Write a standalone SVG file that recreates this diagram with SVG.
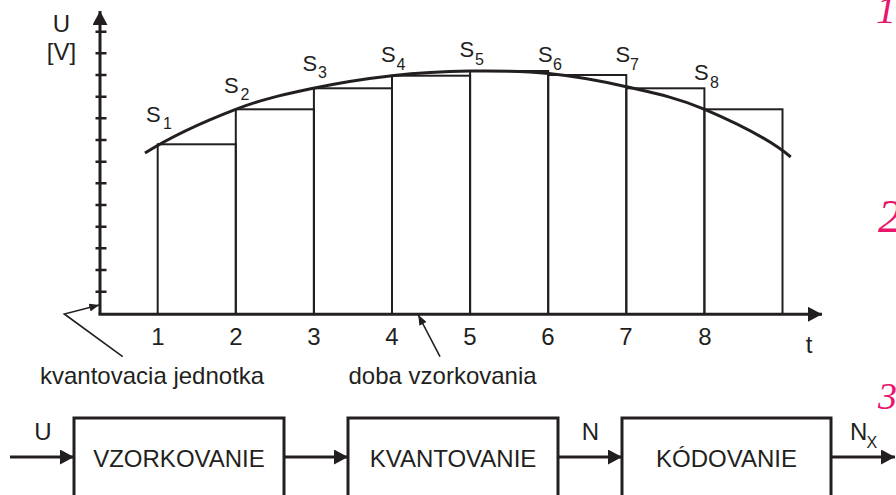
<svg xmlns="http://www.w3.org/2000/svg" width="896" height="495" viewBox="0 0 896 495">
<defs>
<style>
text{font-family:"Liberation Sans",Arial,sans-serif;fill:#231f20}
.lbl{font-size:24px}
.s{font-size:22px}
.sub{font-size:16px}
.axis{stroke:#231f20;stroke-width:3;fill:none}
.tick{stroke:#231f20;stroke-width:2.5}
.blk{stroke:#231f20;stroke-width:2;fill:none}
.box{stroke:#231f20;stroke-width:3;fill:#fff}
.conn{stroke:#231f20;stroke-width:3;fill:none}
.lead{stroke:#231f20;stroke-width:1.6;fill:none}
.pink{font-family:"Liberation Serif","Times New Roman",serif;font-style:italic;fill:#e8156b}
</style>
<marker id="ah" viewBox="0 0 14 15" refX="14" refY="7.5" markerWidth="14" markerHeight="15" markerUnits="userSpaceOnUse" orient="auto">
<path d="M0,0 L14,7.5 L0,15 Z" fill="#231f20"/>
</marker>
<marker id="ahs" viewBox="0 0 10 8" refX="10" refY="4" markerWidth="10" markerHeight="8" markerUnits="userSpaceOnUse" orient="auto">
<path d="M0,0 L10,4 L0,8 Z" fill="#231f20"/>
</marker>
</defs>
<rect width="896" height="495" fill="#fff"/>

<g id="chart">
<g id="blocks">
<rect class="blk" x="157.7" y="144.3" width="78.1" height="169.7"/>
<rect class="blk" x="235.8" y="109.3" width="78.1" height="204.7"/>
<rect class="blk" x="313.9" y="88.3" width="78.1" height="225.7"/>
<rect class="blk" x="392" y="75.7" width="78.1" height="238.3"/>
<rect class="blk" x="470.1" y="71" width="78.1" height="243"/>
<rect class="blk" x="548.2" y="75" width="78.1" height="239"/>
<rect class="blk" x="626.3" y="88.3" width="78.1" height="225.7"/>
<rect class="blk" x="704.4" y="109.3" width="78.1" height="204.7"/>
</g>
<path id="curve" d="M145,153 C175,134 207.65,120.08 235.7,109.3 C263.75,98.52 287.25,93.9 313.3,88.3 C339.35,82.7 365.88,78.58 392,75.7 C418.12,72.82 443.88,71.37 470,71 C496.12,70.63 522.65,70.88 548.7,73.5 C574.75,76.12 600.3,80.73 626.3,86.7 C652.3,92.67 677.3,97.58 704.7,109.3 C732.1,121.02 770,139 790.7,157" stroke="#231f20" stroke-width="3" fill="none"/>
<g id="axes">
<line class="axis" x1="100" y1="314.3" x2="100" y2="11" marker-end="url(#ah)"/>
<line class="axis" x1="98.5" y1="314.3" x2="822" y2="314.3" marker-end="url(#ah)"/>
<path class="tick" d="M95.5,31.7H106.5M95.5,53.3H106.5M95.5,75H106.5M95.5,96.7H106.5M95.5,118.3H106.5M95.5,140H106.5M95.5,161.7H106.5M95.5,183.3H106.5M95.5,205H106.5M95.5,226.7H106.5M95.5,248.3H106.5M95.5,270H106.5M95.5,291.7H106.5"/>
</g>
<g id="axis-labels">
<text class="lbl" x="61.5" y="32" text-anchor="middle">U</text>
<text class="lbl" x="61.5" y="60" text-anchor="middle">[V]</text>
<text class="lbl" x="809" y="353" text-anchor="middle">t</text>
<text class="lbl" x="158" y="345" text-anchor="middle">1</text>
<text class="lbl" x="236" y="345" text-anchor="middle">2</text>
<text class="lbl" x="314" y="345" text-anchor="middle">3</text>
<text class="lbl" x="392" y="345" text-anchor="middle">4</text>
<text class="lbl" x="470" y="345" text-anchor="middle">5</text>
<text class="lbl" x="548" y="345" text-anchor="middle">6</text>
<text class="lbl" x="626" y="345" text-anchor="middle">7</text>
<text class="lbl" x="705" y="345" text-anchor="middle">8</text>
</g>
<g id="sample-labels">
<text class="s" x="146" y="122">S<tspan class="sub" x="163" y="129">1</tspan></text>
<text class="s" x="224" y="93">S<tspan class="sub" x="240.5" y="99.5">2</tspan></text>
<text class="s" x="302.5" y="70.5">S<tspan class="sub" x="318" y="77.5">3</tspan></text>
<text class="s" x="381" y="61.5">S<tspan class="sub" x="396.5" y="70">4</tspan></text>
<text class="s" x="459.5" y="56.5">S<tspan class="sub" x="475" y="65">5</tspan></text>
<text class="s" x="538" y="61.5">S<tspan class="sub" x="553" y="70">6</tspan></text>
<text class="s" x="615.5" y="61.5">S<tspan class="sub" x="630" y="69.5">7</tspan></text>
<text class="s" x="694" y="80">S<tspan class="sub" x="710" y="87.5">8</tspan></text>
</g>
<g id="annotations">
<polyline class="lead" points="122.7,356.7 64.3,314 99.3,305" marker-end="url(#ahs)"/>
<line class="lead" x1="440" y1="356.7" x2="418.3" y2="315" marker-end="url(#ahs)"/>
<text class="lbl" x="40" y="383.5">kvantovacia jednotka</text>
<text class="lbl" x="348.5" y="383.5">doba vzorkovania</text>
</g>
</g>

<g id="vzorkovanie">
<rect class="box" x="74" y="418" width="210" height="82"/>
<text class="lbl" x="179" y="467" text-anchor="middle">VZORKOVANIE</text>
</g>
<g id="kvantovanie">
<rect class="box" x="348" y="418" width="210" height="82"/>
<text class="lbl" x="453" y="467" text-anchor="middle">KVANTOVANIE</text>
</g>
<g id="kodovanie">
<rect class="box" x="622" y="418" width="209" height="82"/>
<text class="lbl" x="726.5" y="467" text-anchor="middle">KÓDOVANIE</text>
</g>

<g id="connectors">
<line class="conn" x1="10" y1="457" x2="74" y2="457" marker-end="url(#ah)"/>
<line class="conn" x1="284" y1="457" x2="348" y2="457" marker-end="url(#ah)"/>
<line class="conn" x1="558" y1="457" x2="622" y2="457" marker-end="url(#ah)"/>
<line class="conn" x1="831" y1="457" x2="895" y2="457" marker-end="url(#ah)"/>
<text class="lbl" x="43" y="440" text-anchor="middle">U</text>
<text class="lbl" x="590.5" y="440" text-anchor="middle">N</text>
<text class="lbl" x="850" y="440">N<tspan class="sub" font-size="18px" x="866.5" y="448">X</tspan></text>
</g>

<g id="margin-numbers">
<text class="pink" x="876" y="23" font-size="40">1</text>
<text class="pink" x="878" y="232" font-size="46">2</text>
<text class="pink" x="878" y="409" font-size="38">3</text>
</g>
</svg>
